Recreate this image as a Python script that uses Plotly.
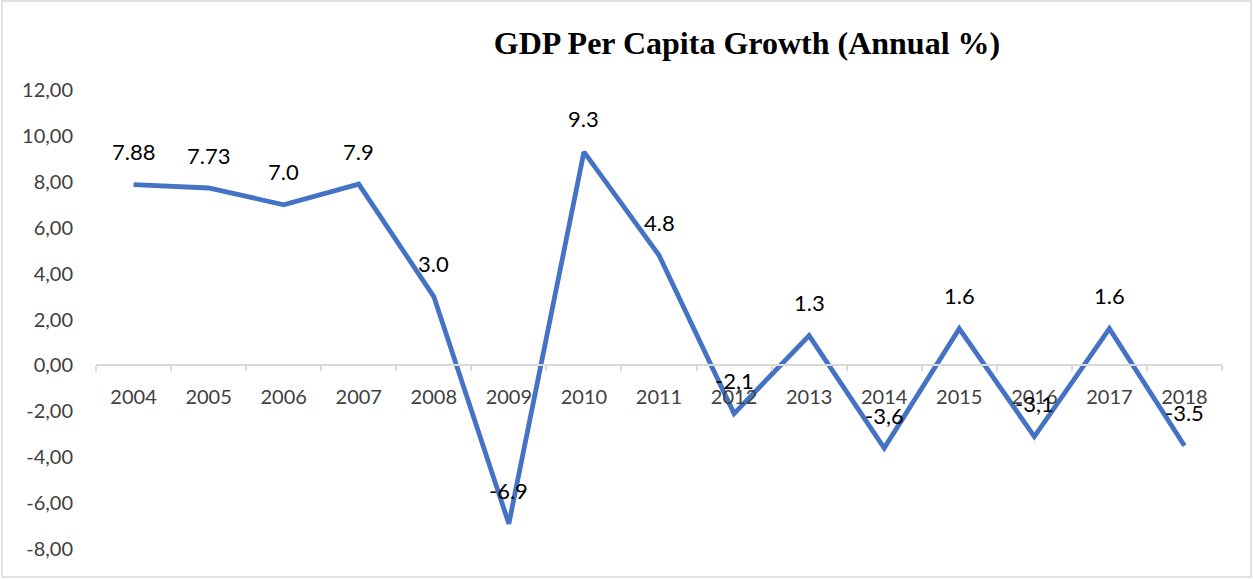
import plotly.graph_objects as go

years = ["2004", "2005", "2006", "2007", "2008", "2009", "2010", "2011",
         "2012", "2013", "2014", "2015", "2016", "2017", "2018"]
growth = [7.88, 7.73, 7.0, 7.9, 3.0, -6.9, 9.3, 4.8,
          -2.1, 1.3, -3.6, 1.6, -3.1, 1.6, -3.5]
labels = ["7.88", "7.73", "7.0", "7.9", "3.0", "-6.9", "9.3", "4.8",
          "-2,1", "1.3", "-3,6", "1.6", "-3,1", "1.6", "-3.5"]
y_ticks = [-8, -6, -4, -2, 0, 2, 4, 6, 8, 10, 12]
y_ticktext = ["-8,00", "-6,00", "-4,00", "-2,00", "0,00", "2,00", "4,00",
              "6,00", "8,00", "10,00", "12,00"]

W, H = 1253, 579
ML, MR, MT, MB = 96, 31, 90, 30
PW, PH = W - ML - MR, H - MT - MB

fig = go.Figure()
fig.add_trace(go.Scatter(
    x=years, y=growth, mode="lines",
    line=dict(color="#4472C4", width=4.8),
    hoverinfo="skip", showlegend=False,
))

# category index positions on the category axis
for i, (y, t) in enumerate(zip(growth, labels)):
    fig.add_annotation(x=i, y=y, xref="x", yref="y", text=t, showarrow=False,
                       yshift=33, yanchor="middle", xanchor="center",
                       font=dict(family="Lato", size=22, color="#000000"))

fig.update_layout(
    width=W, height=H,
    margin=dict(l=ML, r=MR, t=MT, b=MB),
    paper_bgcolor="white", plot_bgcolor="white",
    title=dict(text="<b>GDP Per Capita Growth (Annual %)</b>",
               x=(747) / W, xanchor="center", y=1 - 43 / H, yanchor="middle",
               font=dict(family="Liberation Serif", size=32, color="#000000")),
    xaxis=dict(
        type="category", categoryorder="array", categoryarray=years,
        range=[-0.5, len(years) - 0.5], autorange=False,
        anchor="free", position=0.4,
        showline=True, linecolor="#D9D9D9", linewidth=1.5,
        ticks="outside", tickson="boundaries", ticklen=5, tickcolor="#D9D9D9",
        tickwidth=1.5, tickangle=0,
        showgrid=False, zeroline=False,
        tickfont=dict(family="Lato", size=20, color="#404040"),
        ticklabelstandoff=14,
    ),
    yaxis=dict(
        range=[-8, 12], autorange=False, tickvals=y_ticks, ticktext=y_ticktext,
        showgrid=False, zeroline=False, showline=False,
        ticks="", ticklabelstandoff=22,
        tickfont=dict(family="Lato", size=20, color="#404040"),
    ),
    shapes=[dict(type="rect", xref="paper", yref="paper",
                 x0=(2 - ML) / PW, x1=(1251 - ML) / PW,
                 y0=1 - (577 - MT) / PH, y1=1 - (1 - MT) / PH,
                 line=dict(color="#D9D9D9", width=1.5), fillcolor="rgba(0,0,0,0)",
                 layer="below")],
)

fig.write_html("out.html")
